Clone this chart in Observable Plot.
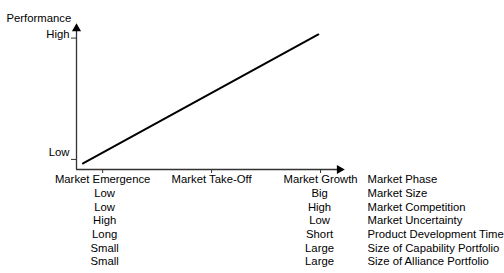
<!DOCTYPE html>
<html>
<head>
<meta charset="utf-8">
<script src="https://cdn.jsdelivr.net/npm/d3@7"></script>
<script src="https://cdn.jsdelivr.net/npm/@observablehq/plot@0.6"></script>
<style>
  html, body { margin: 0; padding: 0; background: #fff; }
</style>
</head>
<body>
<div id="chart"></div>
<script>
// ---- data ----
const phases = ["Market Emergence", "Market Take-Off", "Market Growth"];
const levelLabels = ["Low", "High"];
const rowLabels = ["Market Phase", "Market Size", "Market Competition", "Market Uncertainty",
  "Product Development Time", "Size of Capability Portfolio", "Size of Alliance Portfolio"];
const emergenceValues = ["Low", "Low", "High", "Long", "Small", "Small"];
const growthValues = ["Big", "High", "Low", "Short", "Large", "Large"];
// performance line: phase position (0 = emergence, 2 = growth) vs level (0 = low, 1 = high)
const perfPhase = [-0.18, 1.98];
const perfLevel = [-0.033, 1.03];

// ---- layout ----
const xDomain = [-0.24, 2.22];
const yDomain = [-0.083, 1.12];
const xRange = [76, 344];
const yRange = [169, 23];
const pxX = (xDomain[1] - xDomain[0]) / (xRange[1] - xRange[0]); // data units per px
const pxY = (yDomain[1] - yDomain[0]) / (yRange[0] - yRange[1]);
const rowStep = 13.7;
const font = "Arial, 'Liberation Sans', sans-serif";
const axisColor = "#333";

const perf = perfPhase.map((p, i) => ({phase: p, level: perfLevel[i]}));

const rowMarks = [];
rowMarks.push(Plot.text(phases, {x: (d, i) => i, y: yDomain[0], dy: 10, text: d => d, textAnchor: "middle", fill: "#000"}));
for (let r = 0; r < emergenceValues.length; r++) {
  const dy = 10 + (r + 1) * rowStep;
  rowMarks.push(Plot.text([emergenceValues[r]], {x: 0, y: yDomain[0], dy, dx: 2, text: d => d, textAnchor: "middle", fill: "#000"}));
  rowMarks.push(Plot.text([growthValues[r]], {x: 2, y: yDomain[0], dy, dx: -1, text: d => d, textAnchor: "middle", fill: "#000"}));
}
rowLabels.forEach((lab, r) => {
  rowMarks.push(Plot.text([lab], {x: 2, y: yDomain[0], dx: 47, dy: 10 + r * rowStep, text: d => d, textAnchor: "start", fill: "#000"}));
});

const chart = Plot.plot({
  width: 504,
  height: 273,
  margin: 0,
  style: {fontFamily: font, fontSize: "11.3px", background: "#fff", color: "#000", overflow: "visible"},
  x: {domain: xDomain, range: xRange, axis: null},
  y: {domain: yDomain, range: yRange, axis: null},
  marks: [
    // axis lines
    Plot.ruleY([yDomain[0]], {x1: xDomain[0], x2: xDomain[1] - 5 * pxX, stroke: axisColor, strokeWidth: 1.3}),
    Plot.ruleX([xDomain[0]], {y1: yDomain[0], y2: yDomain[1] - 5 * pxY, stroke: axisColor, strokeWidth: 1.3}),
    // arrowheads
    Plot.dot([0], {x: xDomain[1], y: yDomain[0], dx: -5, symbol: "triangle", r: 3.4, rotate: 90, fill: "#000", stroke: "none"}),
    Plot.dot([0], {x: xDomain[0], y: yDomain[1], dy: 5, symbol: "triangle", r: 3.4, fill: "#000", stroke: "none"}),
    // x ticks (pointing down)
    Plot.ruleX([0, 1, 2], {x: d => d, y1: yDomain[0], y2: yDomain[0] - 4 * pxY, stroke: axisColor}),
    // y ticks (pointing left)
    Plot.ruleY([0, 1], {y: d => d, x1: xDomain[0] - 5 * pxX, x2: xDomain[0], stroke: axisColor}),
    // y tick labels
    Plot.text([levelLabels[0]], {x: xDomain[0], y: 0, dx: -7, dy: -7, text: d => d, textAnchor: "end", fill: "#000"}),
    Plot.text([levelLabels[1]], {x: xDomain[0], y: 1, dx: -7, dy: -4, text: d => d, textAnchor: "end", fill: "#000"}),
    // axis title
    Plot.text(["Performance"], {frameAnchor: "top-left", dx: 6, dy: 13, text: d => d, textAnchor: "start", fill: "#000"}),
    // performance line
    Plot.line(perf, {x: "phase", y: "level", stroke: "#000", strokeWidth: 2}),
    ...rowMarks
  ]
});
document.getElementById("chart").appendChild(chart);
</script>
</body>
</html>
